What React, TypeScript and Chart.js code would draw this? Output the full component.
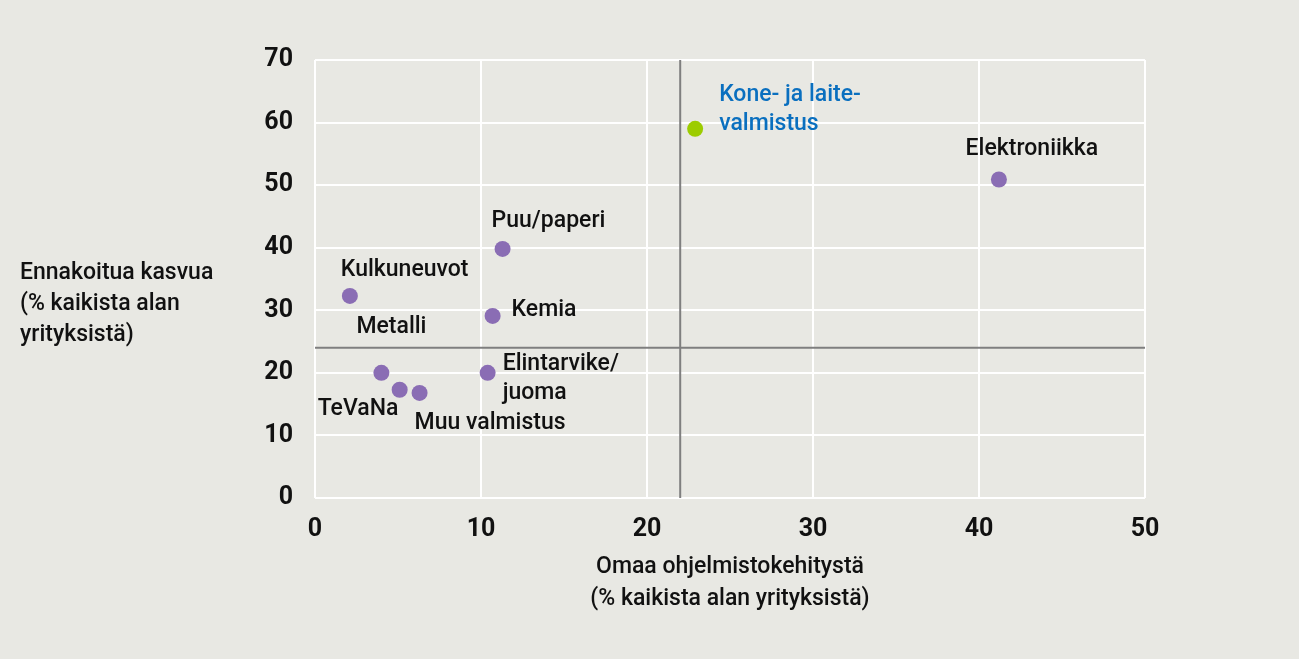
import React, { useEffect, useRef } from "react";
import { Chart, registerables } from "chart.js";

Chart.register(...registerables);

// Data
const industries = [
  "Kone- ja laite-\nvalmistus",
  "Elektroniikka",
  "Puu/paperi",
  "Kulkuneuvot",
  "Kemia",
  "Elintarvike/\njuoma",
  "Metalli",
  "TeVaNa",
  "Muu valmistus",
];
const softwareDev = [22.9, 41.2, 11.3, 2.1, 10.7, 10.4, 4.0, 5.1, 6.3];
const growth = [59.0, 50.9, 39.8, 32.3, 29.1, 20.0, 20.0, 17.3, 16.8];
const highlighted = [true, false, false, false, false, false, false, false, false];
const xTicks = [0, 10, 20, 30, 40, 50];
const yTicks = [0, 10, 20, 30, 40, 50, 60, 70];
const xDivider = 22;
const yDivider = 24;
const xTitle = ["Omaa ohjelmistokehitystä", "(% kaikista alan yrityksistä)"];
const yTitle = ["Ennakoitua kasvua", "(% kaikista alan", "yrityksistä)"];

// Label placement (style, not data)
const labelOffsets: { dx: number; dy: number; align: CanvasTextAlign }[] = [
  { dx: 24, dy: -34, align: "left" },
  { dx: 33, dy: -30, align: "center" },
  { dx: -11, dy: -28, align: "left" },
  { dx: -9, dy: -26, align: "left" },
  { dx: 19, dy: -6, align: "left" },
  { dx: 15, dy: -9, align: "left" },
  { dx: -25, dy: -46, align: "left" },
  { dx: -82, dy: 19, align: "left" },
  { dx: -5, dy: 30, align: "left" },
];

const BG = "#e8e8e3";
const PURPLE = "#8a6db4";
const GREEN = "#9ccc00";
const BLUE = "#0a6fbf";
const FONT = "Roboto, 'Liberation Sans', sans-serif";

const overlayPlugin = {
  id: "overlay",
  beforeDatasetsDraw(chart: any) {
    const { ctx, chartArea, scales } = chart;
    const x = scales.x;
    const y = scales.y;
    ctx.save();
    ctx.strokeStyle = "#7f7f7f";
    ctx.lineWidth = 2;
    const px = x.getPixelForValue(xDivider);
    ctx.beginPath();
    ctx.moveTo(px, chartArea.top);
    ctx.lineTo(px, chartArea.bottom);
    ctx.stroke();
    const py = y.getPixelForValue(yDivider);
    ctx.beginPath();
    ctx.moveTo(chartArea.left, py);
    ctx.lineTo(chartArea.right, py);
    ctx.stroke();
    ctx.restore();
  },
  afterDatasetsDraw(chart: any) {
    const { ctx, scales, chartArea } = chart;
    const x = scales.x;
    const y = scales.y;
    ctx.save();
    ctx.font = `500 23px ${FONT}`;
    ctx.textBaseline = "middle";
    industries.forEach((name, i) => {
      const px = x.getPixelForValue(softwareDev[i]);
      const py = y.getPixelForValue(growth[i]);
      const o = labelOffsets[i];
      ctx.fillStyle = highlighted[i] ? BLUE : "#111111";
      ctx.textAlign = o.align;
      name.split("\n").forEach((line, j) => {
        ctx.fillText(line, px + o.dx, py + o.dy + j * 29);
      });
    });
    // axis titles
    ctx.fillStyle = "#111111";
    ctx.textAlign = "center";
    const cx = (chartArea.left + chartArea.right) / 2;
    xTitle.forEach((line, j) => {
      ctx.fillText(line, cx, 567 + j * 32);
    });
    ctx.textAlign = "left";
    yTitle.forEach((line, j) => {
      ctx.fillText(line, 20, 273 + j * 31);
    });
    ctx.restore();
  },
};

export default function App() {
  const ref = useRef<HTMLCanvasElement | null>(null);
  useEffect(() => {
    document.body.style.margin = "0";
    document.body.style.background = BG;
    if (!ref.current) return;
    const chart = new Chart(ref.current, {
      type: "scatter",
      data: {
        datasets: [
          {
            data: softwareDev.map((v, i) => ({ x: v, y: growth[i] })),
            backgroundColor: highlighted.map((h) => (h ? GREEN : PURPLE)),
            borderWidth: 0,
            pointRadius: 8,
            pointHoverRadius: 8,
          },
        ],
      },
      options: {
        animation: false,
        responsive: false,
        maintainAspectRatio: false,
        layout: { padding: { top: 60, right: 154, left: 0, bottom: 0 } },
        plugins: {
          legend: { display: false },
          tooltip: { enabled: false },
        },
        scales: {
          x: {
            type: "linear",
            min: 0,
            max: 50,
            afterBuildTicks: (s: any) => {
              s.ticks = xTicks.map((v) => ({ value: v }));
            },
            afterFit: (s: any) => {
              s.height = 161;
            },
            grid: { color: "#ffffff", lineWidth: 2, drawTicks: false },
            border: { display: false },
            ticks: {
              color: "#111111",
              font: { family: FONT, size: 25, weight: "bold" },
              padding: 17,
              maxRotation: 0,
            },
          },
          y: {
            type: "linear",
            min: 0,
            max: 70,
            afterBuildTicks: (s: any) => {
              s.ticks = yTicks.map((v) => ({ value: v }));
            },
            afterFit: (s: any) => {
              s.width = 315;
            },
            grid: { color: "#ffffff", lineWidth: 2, drawTicks: false },
            border: { display: false },
            ticks: {
              color: "#111111",
              font: { family: FONT, size: 25, weight: "bold" },
              padding: 22,
            },
          },
        },
      },
      plugins: [overlayPlugin],
    });
    return () => chart.destroy();
  }, []);
  return (
    <div style={{ width: 1299, height: 659, background: BG }}>
      <canvas ref={ref} width={1299} height={659} />
    </div>
  );
}
